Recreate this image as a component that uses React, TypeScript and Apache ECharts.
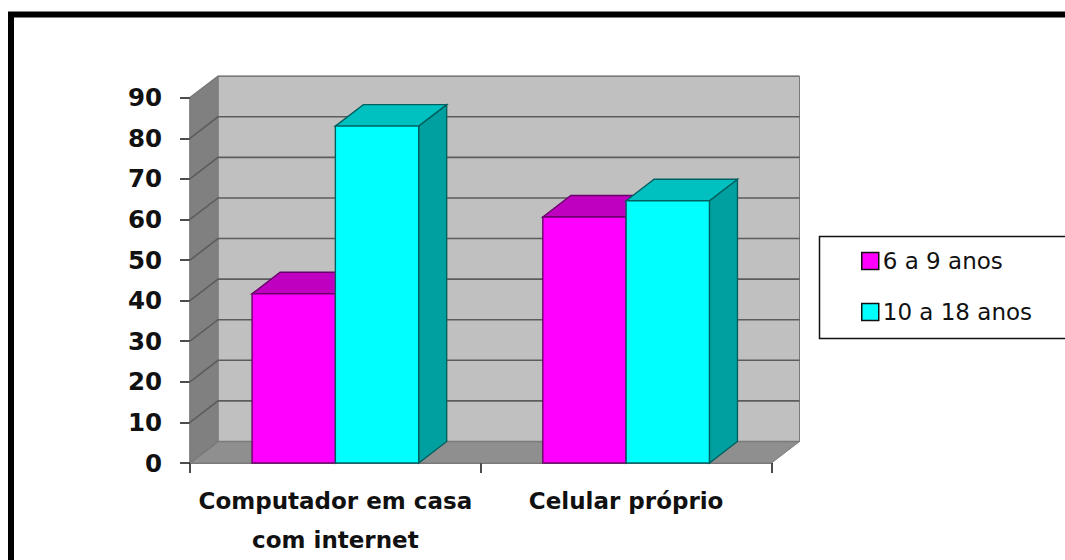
import React, { useEffect, useRef } from "react";
import * as echarts from "echarts";

const categories = ["Computador em casa\ncom internet", "Celular próprio"];
const ageGroups = ["6 a 9 anos", "10 a 18 anos"];
const youngerValues = [41.7, 60.6];
const olderValues = [83, 64.6];
const gridValues = [0, 10, 20, 30, 40, 50, 60, 70, 80, 90];

// Oblique offset of the box depth, in pixels.
const DEPTH_X = 28;
const DEPTH_Y = 21.5;
const BAR_SHARE = 0.2865;
const FONT = "'DejaVu Sans', sans-serif";

function poly(points: number[][], fill: string, stroke: string, lineWidth = 1) {
  return { type: "polygon", shape: { points }, style: { fill, stroke, lineWidth } };
}

// Side wall, back wall and floor of the plot box.
function renderWalls(params: any) {
  const { x, y, width, height } = params.coordSys;
  const b = y + height;
  const r = x + width;
  const edge = "#7a7a7a";
  return {
    type: "group",
    children: [
      poly([[x + DEPTH_X, y - DEPTH_Y], [r + DEPTH_X, y - DEPTH_Y], [r + DEPTH_X, b - DEPTH_Y], [x + DEPTH_X, b - DEPTH_Y]], "#c0c0c0", edge),
      poly([[x, y], [x + DEPTH_X, y - DEPTH_Y], [x + DEPTH_X, b - DEPTH_Y], [x, b]], "#808080", edge),
      poly([[x, b], [x + DEPTH_X, b - DEPTH_Y], [r + DEPTH_X, b - DEPTH_Y], [r, b]], "#8f8f8f", edge),
    ],
  };
}

// One horizontal grid line running along the side wall and the back wall.
function renderGridLine(params: any, api: any) {
  const { x, width } = params.coordSys;
  const value = api.value(0);
  const py = api.coord([0, value])[1];
  return {
    type: "polyline",
    shape: {
      points: [
        [x, py],
        [x + DEPTH_X, py - DEPTH_Y],
        [x + width + DEPTH_X, py - DEPTH_Y],
      ],
    },
    style: { fill: "none", stroke: value === 0 || value === 90 ? "#7a7a7a" : "#5c5c5c", lineWidth: 1.6 },
  };
}

// A box-shaped bar: front face, right side and lid, offset from the category centre.
function barRenderer(side: -1 | 1, front: string, lid: string, flank: string, edge: string) {
  return (_params: any, api: any) => {
    const [cx, top] = api.coord([api.value(0), api.value(1)]);
    const bottom = api.coord([api.value(0), 0])[1];
    const w = api.size([1, 0])[0] * BAR_SHARE;
    const l = side < 0 ? cx - w : cx;
    const r = l + w;
    return {
      type: "group",
      children: [
        poly([[r, top], [r + DEPTH_X, top - DEPTH_Y], [r + DEPTH_X, bottom - DEPTH_Y], [r, bottom]], flank, edge, 1.4),
        poly([[l, top], [l + DEPTH_X, top - DEPTH_Y], [r + DEPTH_X, top - DEPTH_Y], [r, top]], lid, edge, 1.4),
        poly([[l, top], [r, top], [r, bottom], [l, bottom]], front, edge, 1.4),
      ],
    };
  };
}

export default function App() {
  const ref = useRef<HTMLDivElement>(null);

  useEffect(() => {
    const chart = echarts.init(ref.current!, undefined, { renderer: "svg" });
    chart.setOption({
      animation: false,
      backgroundColor: "#ffffff",
      textStyle: { fontFamily: FONT },
      grid: { left: 190, top: 97.7, width: 581.5, height: 365.3, containLabel: false, outerBoundsMode: "none" },
      xAxis: {
        type: "category",
        data: categories,
        axisLine: { show: true, lineStyle: { color: "#777777", width: 2 } },
        axisTick: { show: true, alignWithLabel: false, length: 10, lineStyle: { color: "#111111", width: 1.5 } },
        axisLabel: { color: "#111111", fontSize: 23, fontWeight: "bold", fontFamily: FONT, margin: 18, lineHeight: 39, interval: 0 },
      },
      yAxis: {
        type: "value",
        min: 0,
        max: 90,
        interval: 10,
        splitLine: { show: false },
        axisLine: { show: true, lineStyle: { color: "#777777", width: 1.5 } },
        axisTick: { show: true, length: 10, lineStyle: { color: "#111111", width: 1.5 } },
        axisLabel: { color: "#111111", fontSize: 24.5, fontWeight: "bold", fontFamily: FONT, margin: 28 },
      },
      legend: {
        left: 861,
        top: 249.5,
        orient: "vertical",
        itemWidth: 17,
        itemHeight: 17,
        itemGap: 28,
        padding: 0,
        icon: "rect",
        selectedMode: false,
        textStyle: { color: "#111111", fontSize: 23, fontFamily: FONT, padding: [0, 0, 0, -1] },
        data: [
          { name: ageGroups[0], itemStyle: { color: "#ff00ff", borderColor: "#111111", borderWidth: 1.5 } },
          { name: ageGroups[1], itemStyle: { color: "#00ffff", borderColor: "#111111", borderWidth: 1.5 } },
        ],
      },
      graphic: [
        // Frame around the picture and the box behind the legend; both run off the page.
        { type: "rect", silent: true, z: -1, shape: { x: 11, y: 14.5, width: 1300, height: 800 }, style: { fill: "none", stroke: "#000000", lineWidth: 6 } },
        { type: "rect", silent: true, z: -1, shape: { x: 819.5, y: 236.5, width: 400, height: 102 }, style: { fill: "#ffffff", stroke: "#111111", lineWidth: 1.5 } },
      ],
      series: [
        { type: "custom", silent: true, z: 1, data: [[0, 0]], renderItem: renderWalls, encode: { x: 0, y: 1 } },
        { type: "custom", silent: true, z: 1, data: gridValues.map((v) => [v]), renderItem: renderGridLine, encode: { y: 0 } },
        {
          name: ageGroups[0],
          type: "custom",
          silent: true,
          z: 2,
          itemStyle: { color: "#ff00ff" },
          data: youngerValues.map((v, i) => [i, v]),
          encode: { x: 0, y: 1 },
          renderItem: barRenderer(-1, "#ff00ff", "#c000c0", "#a000a0", "#6a006a"),
        },
        {
          name: ageGroups[1],
          type: "custom",
          silent: true,
          z: 3,
          itemStyle: { color: "#00ffff" },
          data: olderValues.map((v, i) => [i, v]),
          encode: { x: 0, y: 1 },
          renderItem: barRenderer(1, "#00ffff", "#00c0c0", "#00a0a0", "#006060"),
        },
      ],
    });
    return () => chart.dispose();
  }, []);

  return (
    <div
      ref={ref}
      style={{ position: "fixed", left: 0, top: 0, width: 1065, height: 560, overflow: "hidden" }}
    />
  );
}
